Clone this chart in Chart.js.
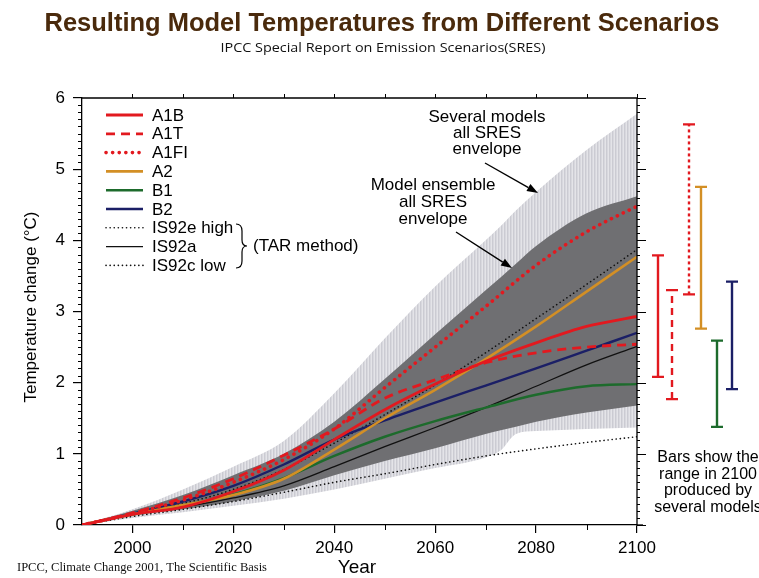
<!DOCTYPE html>
<html><head><meta charset="utf-8">
<script src="https://cdn.jsdelivr.net/npm/chart.js@4"></script>
<style>html,body{margin:0;padding:0;background:#fff;}canvas{display:block;}</style>
</head><body>
<canvas id="c" width="759" height="578"></canvas>
<script>
// ---------- data ----------
const years = [1990,2000,2010,2020,2030,2040,2050,2060,2070,2080,2090,2100];
const a1b   = [0,0.15,0.25,0.47,0.77,1.20,1.62,1.98,2.30,2.56,2.79,2.93];
const a1t   = [0,0.17,0.38,0.65,0.98,1.35,1.78,2.04,2.28,2.42,2.50,2.54];
const a1fi  = [0,0.16,0.35,0.60,0.92,1.35,1.93,2.50,3.07,3.65,4.12,4.48];
const a2    = [0,0.15,0.28,0.42,0.65,1.06,1.50,1.90,2.33,2.79,3.28,3.77];
const b1    = [0,0.15,0.27,0.43,0.66,0.97,1.24,1.46,1.65,1.83,1.95,1.98];
const b2    = [0,0.16,0.33,0.55,0.85,1.20,1.47,1.72,1.96,2.20,2.45,2.70];
const is92e = [0,0.16,0.30,0.50,0.78,1.15,1.55,1.97,2.42,2.90,3.38,3.87];
const is92a = [0,0.15,0.25,0.38,0.55,0.82,1.10,1.37,1.65,1.95,2.25,2.51];
const is92c = [0,0.12,0.22,0.33,0.46,0.60,0.72,0.85,0.97,1.07,1.16,1.24];

const bandYears     = [1990,2000,2010,2020,2030,2040,2050,2060,2070,2073,2076,2080,2090,2100];
const severalUpper  = [0,0.22,0.50,0.82,1.18,1.85,2.62,3.35,4.00,4.20,4.42,4.68,5.27,5.78];
const severalLower  = [0,0.10,0.18,0.27,0.37,0.50,0.65,0.80,0.95,1.05,1.28,1.32,1.35,1.37];
const ensembleUpper = [0,0.20,0.42,0.70,1.00,1.45,2.05,2.68,3.30,3.48,3.67,3.92,4.38,4.62];
const ensembleLower = [0,0.13,0.22,0.33,0.48,0.70,0.90,1.08,1.28,1.33,1.38,1.45,1.58,1.68];

const rangeScenarios = ['A1B','A1T','A1FI','A2','B1','B2'];
const rangeLow  = [2.08,1.77,3.24,2.76,1.38,1.91];
const rangeHigh = [3.79,3.30,5.63,4.75,2.59,3.42];

const xTickValues = [2000,2020,2040,2060,2080,2100];
const yTickValues = [0,1,2,3,4,5,6];

const legendLabels = ['A1B','A1T','A1FI','A2','B1','B2','IS92e high','IS92a','IS92c low'];

// ---------- styles ----------
const RED='#e2191f', ORANGE='#d38f25', GREEN='#1d6b2c', NAVY='#1b1f66', BLACK='#111';
const styles = {
  'A1B':{color:RED,width:2.8,dash:[],cap:'butt'},
  'A1T':{color:RED,width:2.8,dash:[9,6],cap:'butt'},
  'A1FI':{color:RED,width:3.6,dash:[0.1,6.5],cap:'round'},
  'A2':{color:ORANGE,width:2.6,dash:[],cap:'butt'},
  'B1':{color:GREEN,width:2.4,dash:[],cap:'butt'},
  'B2':{color:NAVY,width:2.4,dash:[],cap:'butt'},
  'IS92e high':{color:BLACK,width:1.6,dash:[0.1,4],cap:'round'},
  'IS92a':{color:BLACK,width:1.3,dash:[],cap:'butt'},
  'IS92c low':{color:BLACK,width:1.6,dash:[0.1,4],cap:'round'}
};
const seriesValues = [a1b,a1t,a1fi,a2,b1,b2,is92e,is92a,is92c];

const pts = (xs, ys) => xs.map((x,i)=>({x, y: ys[i]}));

const canvas = document.getElementById('c');
const mainCtx = canvas.getContext('2d');
function stripePattern(){
  const c = document.createElement('canvas'); c.width=3; c.height=4;
  const g = c.getContext('2d');
  ['#cbcbd2','#d8d8de','#e4e4e8'].forEach((col,i)=>{g.fillStyle=col;g.fillRect(i,0,1,4);});
  return mainCtx.createPattern(c,'repeat');
}

const lineDatasets = legendLabels.map((lab,i)=>{
  const s = styles[lab];
  return {label:lab, data: pts(years, seriesValues[i]), borderColor:s.color, borderWidth:s.width,
    borderDash:s.dash, borderCapStyle:s.cap, pointRadius:0, fill:false,
    cubicInterpolationMode:'monotone', order: i<6 ? 1 : 2};
});
const bandDatasets = [
  {label:'severalUpper', data: pts(bandYears, severalUpper), fill:'+1', backgroundColor: stripePattern(),
   borderColor:'rgba(0,0,0,0)', borderWidth:0, pointRadius:0, cubicInterpolationMode:'monotone', order:20},
  {label:'severalLower', data: pts(bandYears, severalLower), fill:false,
   borderColor:'rgba(0,0,0,0)', borderWidth:0, pointRadius:0, cubicInterpolationMode:'monotone', order:20},
  {label:'ensembleUpper', data: pts(bandYears, ensembleUpper), fill:'+1', backgroundColor:'#6f6f72',
   borderColor:'rgba(0,0,0,0)', borderWidth:0, pointRadius:0, cubicInterpolationMode:'monotone', order:15},
  {label:'ensembleLower', data: pts(bandYears, ensembleLower), fill:false,
   borderColor:'rgba(0,0,0,0)', borderWidth:0, pointRadius:0, cubicInterpolationMode:'monotone', order:15}
];

const SANS = '"Liberation Sans", Arial, Helvetica, sans-serif';

function fitText(ctx, text, cx, by, width, font, color){
  ctx.save(); ctx.font = font; ctx.fillStyle = color;
  const w = ctx.measureText(text).width;
  ctx.translate(cx, by); ctx.scale(width / w, 1);
  ctx.textAlign='center'; ctx.textBaseline='alphabetic';
  ctx.fillText(text, 0, 0); ctx.restore();
}
function arrow(ctx, x1,y1,x2,y2){
  ctx.save(); ctx.strokeStyle='#000'; ctx.fillStyle='#000'; ctx.lineWidth=1.4;
  const ang=Math.atan2(y2-y1,x2-x1), L=11, W=4;
  const bx=x2-L*Math.cos(ang), by=y2-L*Math.sin(ang);
  ctx.beginPath(); ctx.moveTo(x1,y1); ctx.lineTo(bx,by); ctx.stroke();
  ctx.beginPath(); ctx.moveTo(x2,y2);
  ctx.lineTo(bx+W*Math.sin(ang), by-W*Math.cos(ang));
  ctx.lineTo(bx-W*Math.sin(ang), by+W*Math.cos(ang)); ctx.closePath(); ctx.fill();
  ctx.restore();
}

const deco = {
  id:'deco',
  afterDraw(chart){
    const {ctx, chartArea:a, scales:{x, y}} = chart;
    ctx.save();
    // frame top/right
    ctx.strokeStyle='#000'; ctx.lineWidth=1.3;
    ctx.beginPath(); ctx.moveTo(a.left, a.top); ctx.lineTo(a.right, a.top); ctx.lineTo(a.right, a.bottom); ctx.stroke();
    ctx.beginPath(); ctx.moveTo(a.right, a.bottom); ctx.lineTo(a.right+6, a.bottom); ctx.stroke();
    // y minor/major ticks left & right
    ctx.lineWidth=1;
    for(let k=0;k<=60;k++){
      const v=k/10, py=Math.round(y.getPixelForValue(v))+0.5;
      const major = k%10===0;
      ctx.beginPath();
      if(!major){ ctx.moveTo(a.left-4, py); ctx.lineTo(a.left, py); }
      ctx.moveTo(a.right, py); ctx.lineTo(a.right + (major?9:3), py);
      ctx.stroke();
    }
    // x minor ticks bottom, all ticks top
    for(let yr=2000; yr<=2100; yr+=10){
      const px=Math.round(x.getPixelForValue(yr))+0.5;
      ctx.beginPath();
      if(yr%20!==0){ ctx.moveTo(px,a.bottom); ctx.lineTo(px,a.bottom+5); }
      ctx.moveTo(px,a.top); ctx.lineTo(px,a.top-4);
      ctx.stroke();
    }
    // legend
    ctx.font = '17px '+SANS; ctx.textBaseline='middle'; ctx.textAlign='left'; ctx.fillStyle='#000';
    legendLabels.forEach((lab,i)=>{
      const s=styles[lab], ly = 115 + i*18.8;
      ctx.save(); ctx.strokeStyle=s.color; ctx.lineWidth=s.width; ctx.setLineDash(s.dash); ctx.lineCap=s.cap;
      ctx.beginPath(); ctx.moveTo(106,ly); ctx.lineTo(143,ly); ctx.stroke(); ctx.restore();
      ctx.fillText(lab, 152, ly+1);
    });
    // brace
    ctx.save(); ctx.strokeStyle='#000'; ctx.lineWidth=1.2;
    ctx.beginPath();
    ctx.moveTo(236,224); ctx.quadraticCurveTo(242,224,242,231); ctx.lineTo(242,240);
    ctx.quadraticCurveTo(242,246,247,246); ctx.quadraticCurveTo(242,246,242,252);
    ctx.lineTo(242,261); ctx.quadraticCurveTo(242,268,236,268); ctx.stroke(); ctx.restore();
    ctx.fillText('(TAR method)', 253, 246);
    // annotations
    ctx.textAlign='center';
    ['Several models','all SRES','envelope'].forEach((t,i)=>ctx.fillText(t, 487, 117+i*16.3));
    ['Model ensemble','all SRES','envelope'].forEach((t,i)=>ctx.fillText(t, 433, 185+i*17));
    arrow(ctx, 485,163, 538,193);
    arrow(ctx, 456,232, 512,268);
    // range bars (values through y scale)
    const offs=[21,35,52,64,80,95];
    rangeScenarios.forEach((lab,i)=>{
      const s=styles[lab], bx=a.right+offs[i];
      const y1=y.getPixelForValue(rangeLow[i]), y2=y.getPixelForValue(rangeHigh[i]);
      ctx.save(); ctx.strokeStyle=s.color; ctx.lineWidth=2.4;
      ctx.setLineDash(lab==='A1T'?[7,5]:lab==='A1FI'?[3,3]:[]);
      ctx.beginPath(); ctx.moveTo(bx,y1); ctx.lineTo(bx,y2); ctx.stroke();
      ctx.setLineDash([]); ctx.lineWidth=2.2;
      ctx.beginPath(); ctx.moveTo(bx-6,y1); ctx.lineTo(bx+6,y1); ctx.moveTo(bx-6,y2); ctx.lineTo(bx+6,y2); ctx.stroke();
      ctx.restore();
    });
    ctx.font='16px '+SANS; ctx.fillStyle='#000';
    ['Bars show the','range in 2100','produced by','several models'].forEach((t,i)=>ctx.fillText(t, 708, 458+i*16.5));
    // axis titles
    ctx.font='19px '+SANS; ctx.textBaseline='alphabetic';
    ctx.fillText('Year', 357, 573);
    ctx.save(); ctx.translate(36, 307); ctx.rotate(-Math.PI/2);
    ctx.font='17px '+SANS; ctx.textBaseline='alphabetic'; ctx.fillText('Temperature change (\u00B0C)', 0, 0); ctx.restore();
    // titles
    fitText(ctx, 'Resulting Model Temperatures from Different Scenarios', 382, 31, 675,
      'bold 26px "Liberation Sans Narrow", "Liberation Sans", Arial, sans-serif', '#4a2a0c');
    fitText(ctx, 'IPCC Special Report on Emission Scenarios(SRES)', 383, 52, 325,
      '13px "Open Sans", "Liberation Sans Narrow", sans-serif', '#111');
    // footer
    ctx.font='12.5px "Liberation Serif", "Times New Roman", serif'; ctx.textAlign='left'; ctx.fillStyle='#111';
    ctx.fillText('IPCC, Climate Change 2001, The Scientific Basis', 17, 571);
    ctx.restore();
  }
};

new Chart(canvas, {
  type:'line',
  data:{ datasets:[...lineDatasets, ...bandDatasets] },
  options:{
    responsive:false, animation:false, events:[],
    layout:{padding:{top:98, right:122, left:0, bottom:0}},
    plugins:{legend:{display:false}, title:{display:false}, tooltip:{enabled:false}},
    scales:{
      x:{type:'linear', min:1990, max:2100,
         afterBuildTicks:s=>{s.ticks=xTickValues.map(v=>({value:v}));},
         afterFit:s=>{s.height=53;},
         ticks:{callback:v=>String(v), color:'#000', font:{family:SANS, size:17}, padding:5, maxRotation:0, autoSkip:false},
         grid:{drawOnChartArea:false, drawTicks:true, tickLength:8, color:'#000', lineWidth:1.2},
         border:{display:true, color:'#000', width:1.3}},
      y:{type:'linear', min:0, max:6,
         afterBuildTicks:s=>{s.ticks=yTickValues.map(v=>({value:v}));},
         afterFit:s=>{s.width=82;},
         ticks:{callback:v=>String(v), color:'#000', font:{family:SANS, size:17}, padding:8},
         grid:{drawOnChartArea:false, drawTicks:true, tickLength:9, color:'#000', lineWidth:1.2},
         border:{display:true, color:'#000', width:1.3}}
    }
  },
  plugins:[deco]
});
</script>
</body></html>
